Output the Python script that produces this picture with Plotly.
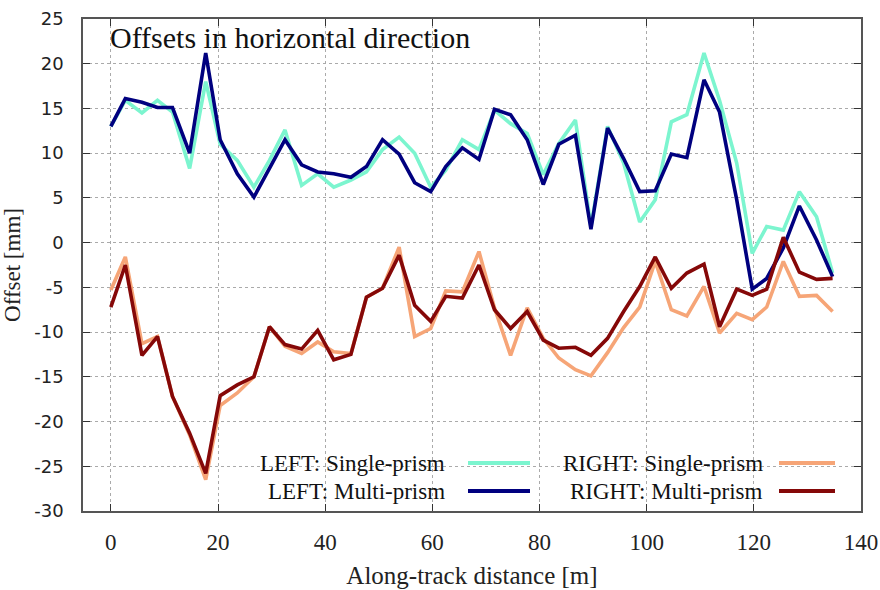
import plotly.graph_objects as go

# Along-track distance [m]
distance = [0, 2.7, 5.8, 8.7, 11.5, 14.7, 17.7, 20.4, 23.6, 26.7, 29.6, 32.5, 35.6, 38.6,
            41.6, 44.8, 47.7, 50.7, 53.8, 56.7, 59.7, 62.5, 65.6, 68.7, 71.6, 74.6, 77.7,
            80.7, 83.6, 86.7, 89.6, 92.7, 95.7, 98.7, 101.6, 104.6, 107.5, 110.7, 113.6,
            116.8, 119.7, 122.4, 125.5, 128.5, 131.7, 134.7]

left_single = [13.0, 15.9, 14.5, 15.9, 14.6, 8.3, 18.0, 11.0, 9.2, 6.2, 9.2, 12.6, 6.4, 7.7,
               6.2, 7.0, 7.9, 10.4, 11.8, 10.0, 6.2, 8.1, 11.5, 10.4, 14.8, 13.3, 12.2,
               7.6, 11.1, 13.7, 1.8, 13.0, 8.9, 2.3, 4.8, 13.5, 14.3, 21.2, 15.9,
               8.9, -1.2, 1.8, 1.4, 5.7, 2.9, -3.4]

left_multi = [13.0, 16.1, 15.7, 15.1, 15.1, 10.0, 21.2, 11.5, 7.7, 5.1, 8.3, 11.5, 8.7, 7.9,
              7.7, 7.3, 8.5, 11.5, 9.9, 6.7, 5.7, 8.5, 10.6, 9.3, 14.9, 14.3, 11.5,
              6.5, 11.0, 12.0, 1.5, 12.8, 9.4, 5.7, 5.8, 9.9, 9.5, 18.2, 14.6,
              4.8, -5.2, -4.0, -0.6, 4.1, 0.3, -3.8]

right_single = [-5.3, -1.6, -11.3, -10.5, -17.2, -21.5, -26.5, -18.2, -16.8, -15.0, -9.4, -11.6,
                -12.4, -11.1, -12.2, -12.4, -6.1, -5.1, -0.5, -10.5, -9.6, -5.4, -5.5, -1.0,
                -7.3, -12.6, -7.3, -10.7, -12.9, -14.2, -14.9, -12.3, -9.5, -7.2, -2.1,
                -7.5, -8.2, -4.9, -10.1, -7.9, -8.6, -7.2, -2.1, -6.0, -5.9, -7.7]

right_multi = [-7.2, -2.5, -12.6, -10.5, -17.2, -21.3, -25.8, -17.1, -15.9, -15.0, -9.4, -11.4,
               -11.9, -9.8, -13.1, -12.5, -6.1, -5.1, -1.4, -7.0, -8.8, -6.0, -6.2, -2.5,
               -7.5, -9.6, -7.7, -10.9, -11.8, -11.7, -12.6, -10.7, -7.7, -4.9, -1.6,
               -5.1, -3.4, -2.4, -9.4, -5.2, -5.9, -5.2, 0.6, -3.3, -4.1, -4.0]

x_ticks = [0, 20, 40, 60, 80, 100, 120, 140]
y_ticks = [25, 20, 15, 10, 5, 0, -5, -10, -15, -20, -25, -30]
y_tick_labels = ["25", "20", "15", "10", "5", "0", "-5", "-10", "-15", "-20", "-25", "-30"]

series = [
    ("LEFT: Single-prism", left_single, "#7cf5cf"),
    ("LEFT: Multi-prism", left_multi, "#00007f"),
    ("RIGHT: Single-prism", right_single, "#f6a577"),
    ("RIGHT: Multi-prism", right_multi, "#850808"),
]

SERIF = "Liberation Serif"

fig = go.Figure()
for name, vals, col in series:
    fig.add_trace(go.Scatter(x=distance, y=vals, mode="lines", name=name,
                             line=dict(color=col, width=3.6), showlegend=False))

# plot frame: left 83, right 861, top 19, bottom 511 (px)
W, H = 880, 590
L, R, T, B = 83, 861, 19, 511
pw, ph = R - L, B - T

def px(xp):
    return (xp - L) / pw

def py(yp):
    return (B - yp) / ph

shapes = [dict(type="rect", xref="paper", yref="paper", x0=px(232), x1=px(R - 1),
               y0=py(B - 1), y1=py(442), fillcolor="white", line=dict(width=0),
               layer="between")]
annotations = []
legend_pos = [
    (series[0], 447, 463, 468, 530),
    (series[1], 447, 491, 468, 530),
    (series[2], 765, 463, 779, 835),
    (series[3], 765, 491, 779, 835),
]
for (name, _, col), tx, ty, lx0, lx1 in legend_pos:
    annotations.append(dict(text=name, xref="paper", yref="paper", x=px(tx), y=py(ty),
                            xanchor="right", yanchor="middle", showarrow=False,
                            font=dict(family=SERIF, size=23, color="#111")))
    shapes.append(dict(type="line", xref="paper", yref="paper", x0=px(lx0), x1=px(lx1),
                       y0=py(ty), y1=py(ty), line=dict(color=col, width=4)))

annotations.append(dict(text="Offsets in horizontal direction", xref="paper", yref="paper",
                        x=px(108), y=py(37), xanchor="left", yanchor="middle",
                        showarrow=False, font=dict(family=SERIF, size=30, color="#111")))

fig.update_layout(
    width=W, height=H,
    margin=dict(l=L, r=W - R, t=T, b=H - B, autoexpand=False),
    paper_bgcolor="white", plot_bgcolor="white",
    showlegend=False,
    shapes=shapes, annotations=annotations,
)
fig.update_xaxes(range=[-5.2, 140], tickvals=x_ticks, ticks="inside", ticklen=7,
                 tickcolor="#333", showline=True, linecolor="#555", linewidth=1.5,
                 mirror="ticks", showgrid=True, gridcolor="#aaa", griddash="dot",
                 gridwidth=1, zeroline=False, ticklabelstandoff=10, automargin=False,
                 tickfont=dict(family=SERIF, size=23, color="#222"),
                 title=dict(text="Along-track distance [m]", standoff=12,
                            font=dict(family=SERIF, size=25, color="#222")))
fig.update_yaxes(range=[-30, 25], tickvals=y_ticks, ticktext=y_tick_labels,
                 ticks="inside", ticklen=7,
                 tickcolor="#333", showline=True, linecolor="#555", linewidth=1.5,
                 mirror="ticks", showgrid=True, gridcolor="#aaa", griddash="dot",
                 gridwidth=1, zeroline=False, ticklabelstandoff=14, automargin=False,
                 tickfont=dict(family="DejaVu Sans", size=18, color="#222"),
                 title=dict(text="Offset [mm]", standoff=8,
                            font=dict(family=SERIF, size=23, color="#222")))

fig.write_html("out.html")
